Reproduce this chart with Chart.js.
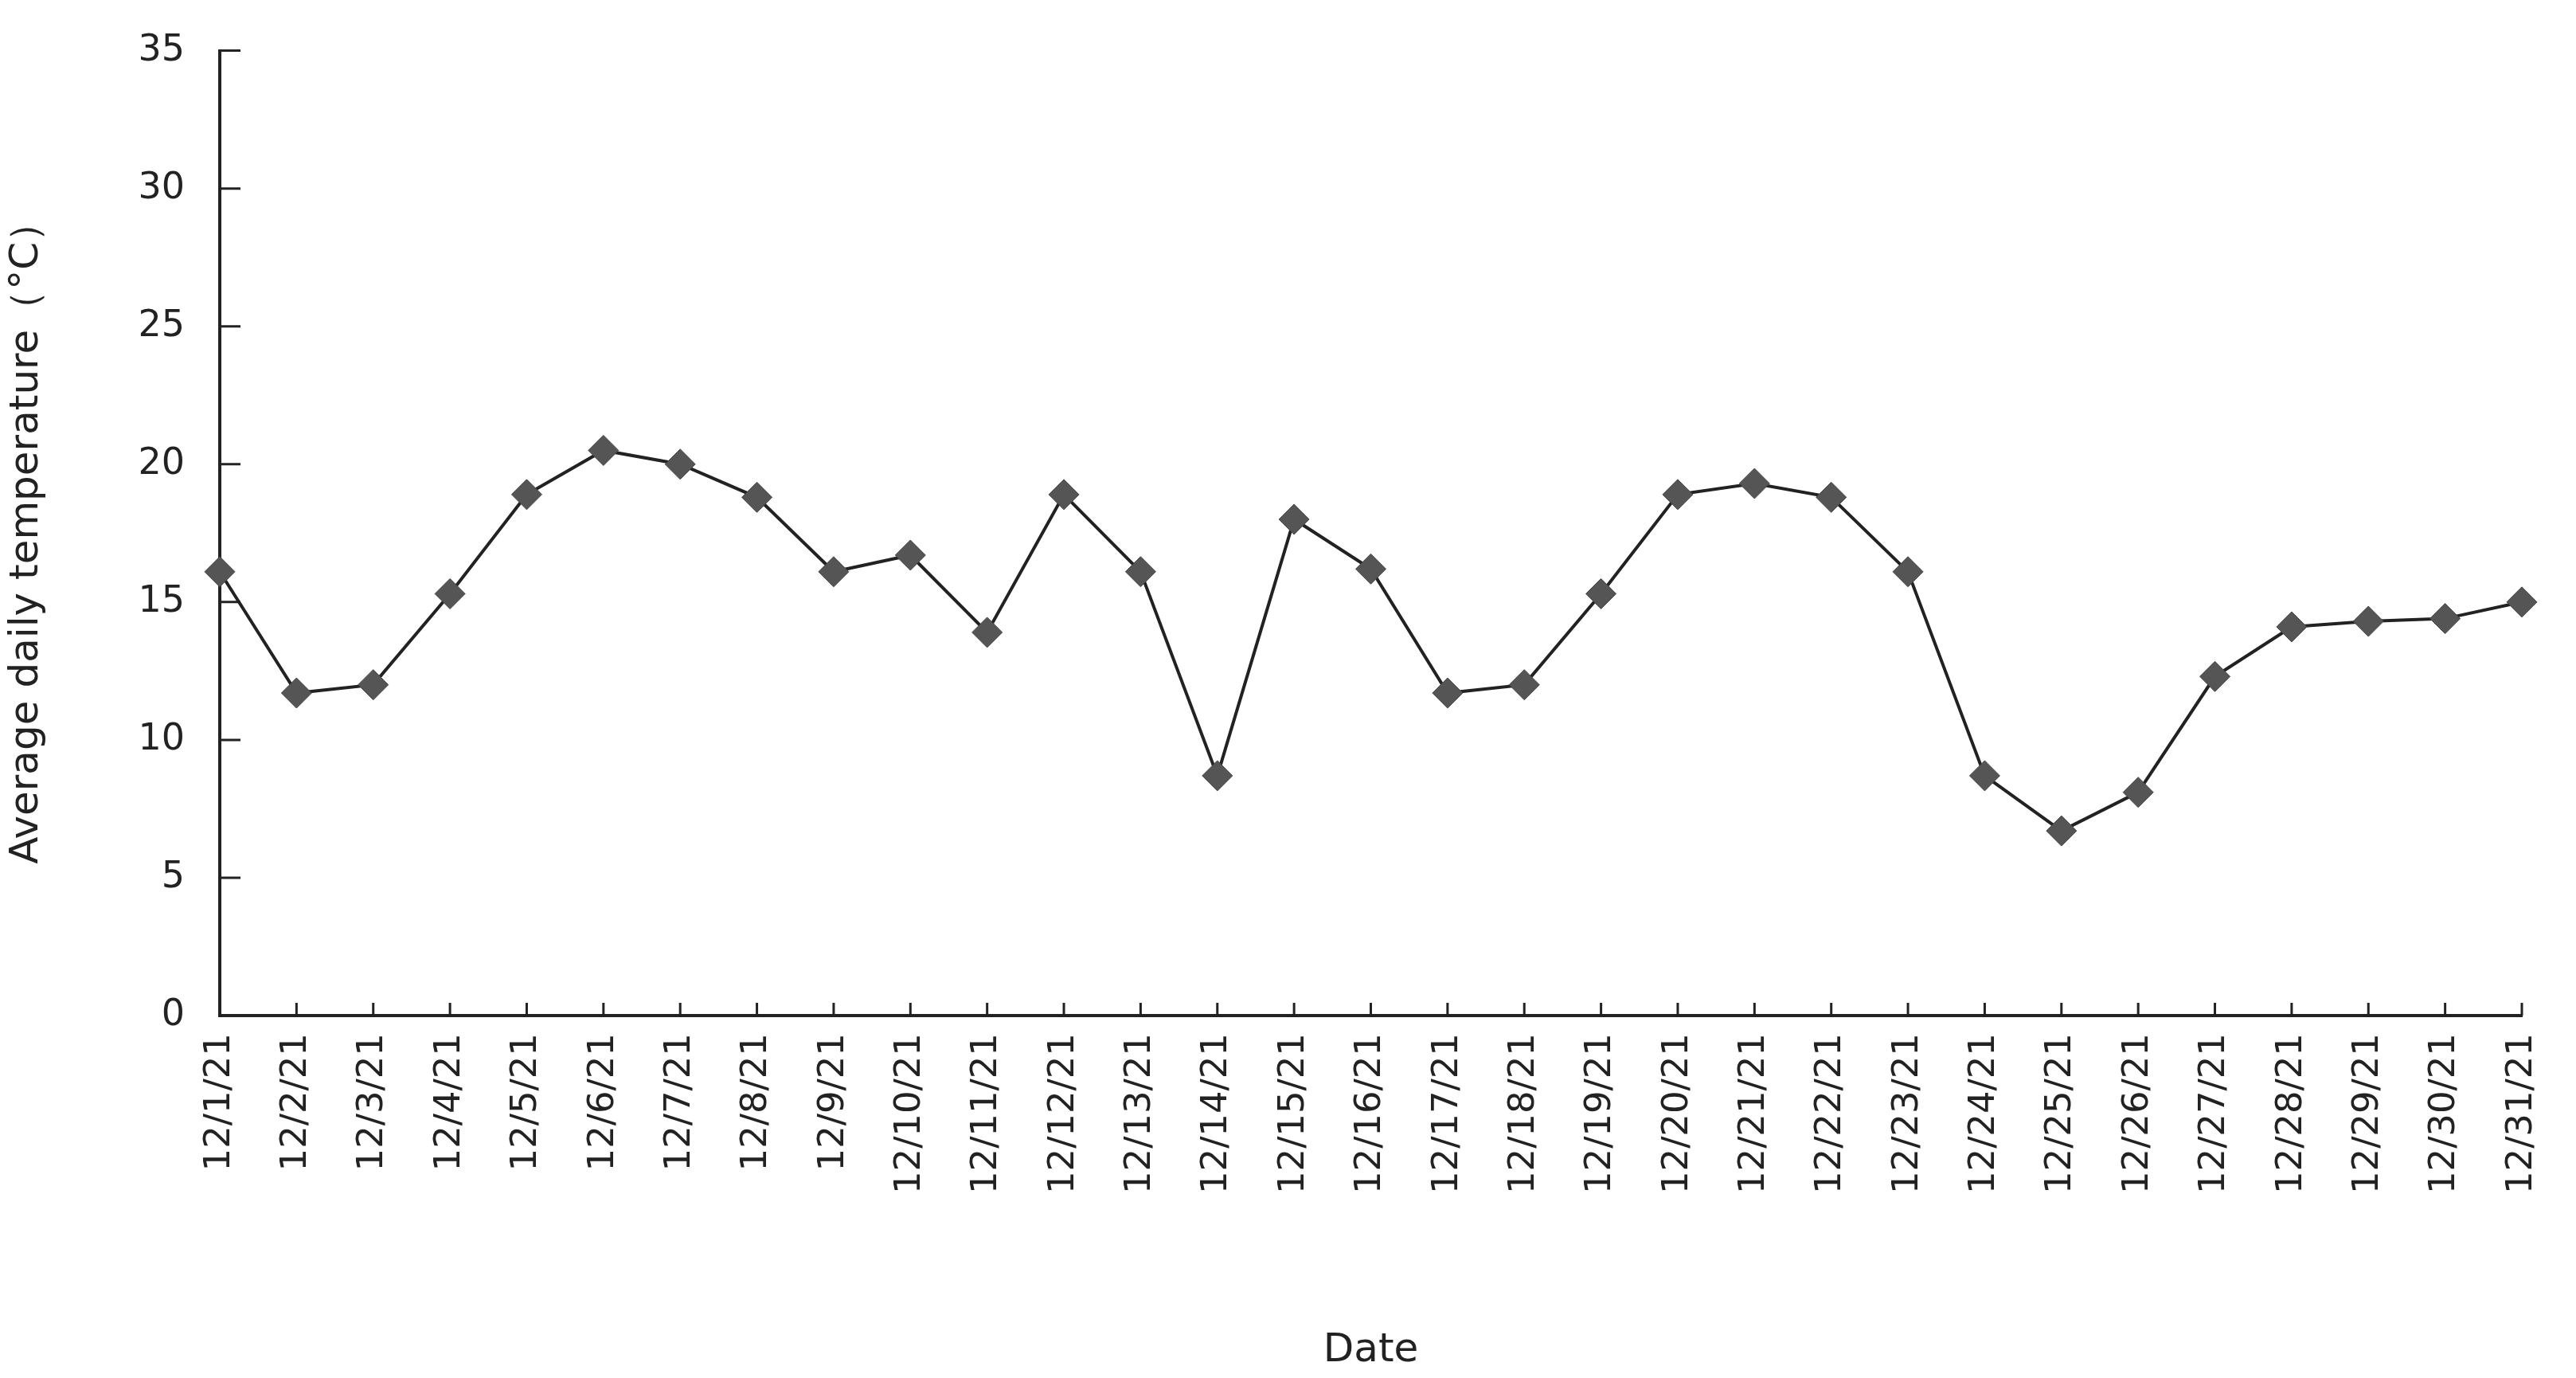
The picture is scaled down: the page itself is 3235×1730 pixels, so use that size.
<!DOCTYPE html>
<html>
<head>
<meta charset="utf-8">
<script src="https://cdn.jsdelivr.net/npm/chart.js@4/dist/chart.umd.min.js"></script>
<style>
  html, body { margin: 0; padding: 0; background: #fff; }
  #wrap { width: 3235px; height: 1730px; }
</style>
</head>
<body>
<div id="wrap"><canvas id="tempChart"></canvas></div>
<script>
const dates = [];
for (let d = 1; d <= 31; d++) dates.push("12/" + d + "/21");

const temps = [16.1, 11.7, 12.0, 15.3, 18.9, 20.5, 20.0, 18.8, 16.1, 16.7, 13.9,
  18.9, 16.1, 8.7, 18.0, 16.2, 11.7, 12.0, 15.3, 18.9, 19.3, 18.8, 16.1, 8.7,
  6.7, 8.1, 12.3, 14.1, 14.3, 14.4, 15.0];

const yTicks = [0, 5, 10, 15, 20, 25, 30, 35];

// tick marks drawn inside the plot area, like the original
const innerTicks = {
  id: "innerTicks",
  afterDraw(chart) {
    const ctx = chart.ctx;
    const x = chart.scales.x;
    const y = chart.scales.y;
    ctx.save();
    ctx.strokeStyle = "#222";
    ctx.lineWidth = 3;
    ctx.beginPath();
    yTicks.forEach((v) => {
      const py = y.getPixelForValue(v);
      ctx.moveTo(x.left, py);
      ctx.lineTo(x.left + 26, py);
    });
    dates.forEach((d, i) => {
      const px = x.getPixelForValue(i);
      ctx.moveTo(px, y.bottom);
      ctx.lineTo(px, y.bottom - 16);
    });
    ctx.stroke();
    ctx.restore();
  },
};

new Chart(document.getElementById("tempChart"), {
  type: "line",
  data: {
    labels: dates,
    datasets: [
      {
        data: temps,
        borderColor: "#222",
        borderWidth: 4,
        pointStyle: "rectRot",
        pointRadius: 19,
        pointBackgroundColor: "#555",
        pointBorderColor: "#444",
        pointBorderWidth: 1,
        tension: 0,
      },
    ],
  },
  options: {
    responsive: true,
    maintainAspectRatio: false,
    animation: false,
    layout: {
      padding: { top: 40, right: 42, left: 0, bottom: 0 },
    },
    plugins: {
      legend: { display: false },
      tooltip: { enabled: false },
    },
    scales: {
      x: {
        offset: false,
        grid: { display: false },
        border: { color: "#222", width: 4 },
        ticks: {
          color: "#222",
          font: { family: "DejaVu Sans", size: 45 },
          maxRotation: 90,
          minRotation: 90,
          autoSkip: false,
          padding: 14,
        },
        title: {
          display: true,
          text: "Date",
          color: "#222",
          font: { family: "DejaVu Sans", size: 50 },
          padding: { top: 60 },
        },
        afterFit(scale) { scale.height = 455; },
      },
      y: {
        min: 0,
        max: 35,
        grid: { display: false },
        border: { color: "#222", width: 4 },
        ticks: {
          stepSize: 5,
          color: "#222",
          font: { family: "DejaVu Sans", size: 46 },
          padding: 36,
        },
        title: {
          display: true,
          text: "Average daily temperature（°C）",
          color: "#222",
          font: { family: "DejaVu Sans", size: 50 },
          padding: { bottom: 30 },
        },
        afterFit(scale) { scale.width = 276; },
      },
    },
  },
  plugins: [innerTicks],
});
</script>
</body>
</html>
